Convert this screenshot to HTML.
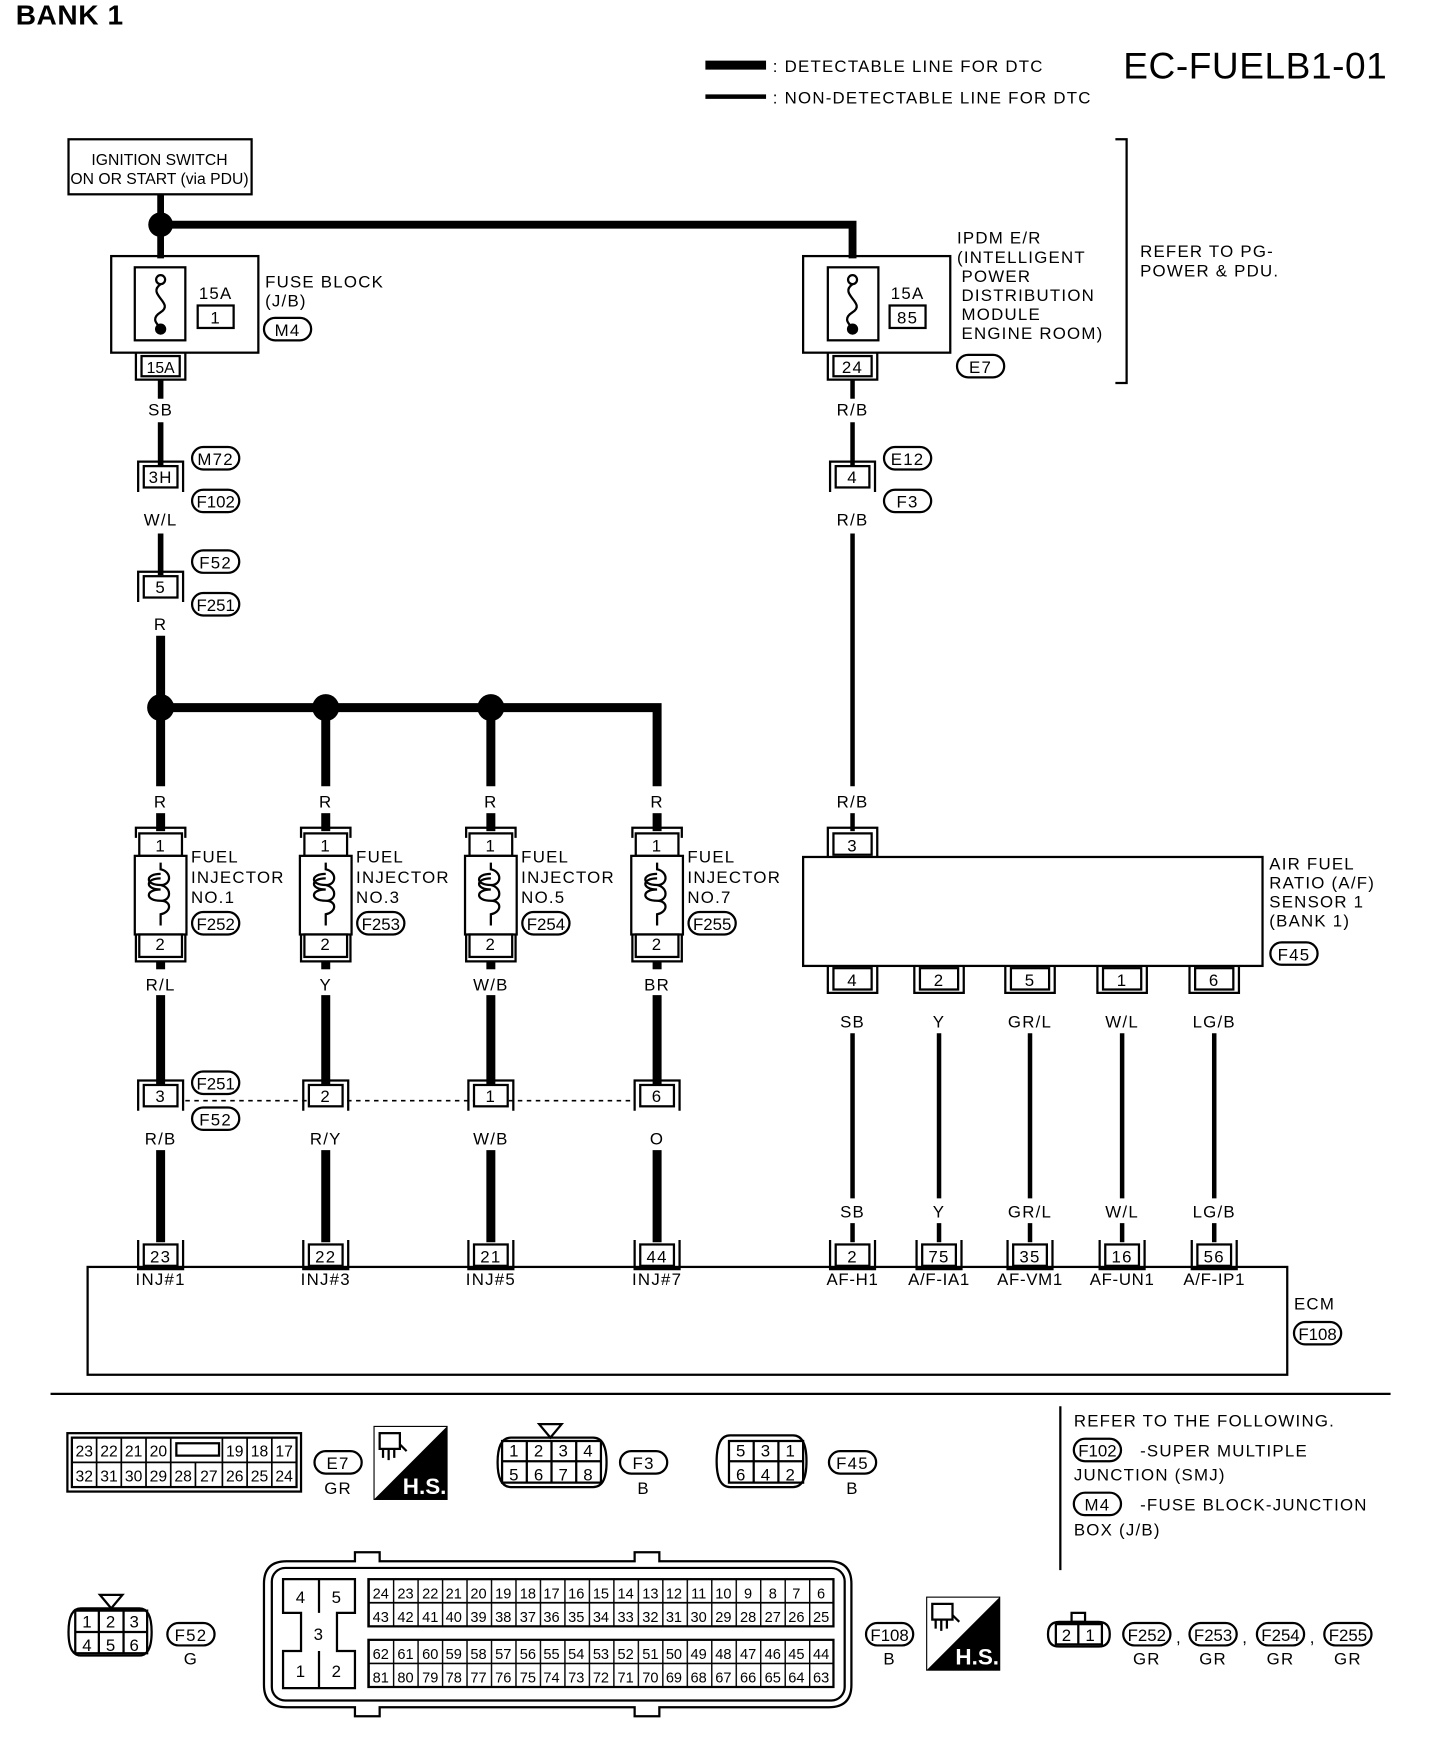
<!DOCTYPE html>
<html><head><meta charset="utf-8"><style>
html,body{margin:0;padding:0;background:#fff}
svg{display:block}
text{font-family:"Liberation Sans",sans-serif;font-size:15px;fill:#000;letter-spacing:1.1px}
.c{text-anchor:middle}
.w{stroke:#000;fill:none}
.b{fill:none;stroke:#000;stroke-width:2}
</style></head><body>
<svg width="1440" height="1760" viewBox="0 0 1282 1567" preserveAspectRatio="none" xmlns="http://www.w3.org/2000/svg">
<defs>
<g id="ov"><rect x="-21" y="-10" width="42" height="20" rx="10" fill="#fff" stroke="#000" stroke-width="2"/></g>
<g id="ct"><path d="M-20,14 V-13 H20 V14" class="b"/><rect x="-15" y="-9" width="30" height="19" fill="#fff" stroke="#000" stroke-width="2"/></g>
<g id="cb"><path d="M-20,-14 V12 H20 V-14" class="b"/><rect x="-15" y="-10" width="30" height="19" fill="#fff" stroke="#000" stroke-width="2"/></g>
<g id="inj">
<path d="M-22,-14 V-19 H22 V-14 M-22,-19 V-10 M22,-19 V-10" class="b"/>
<rect x="-19" y="-14" width="38" height="20" fill="#fff" stroke="#000" stroke-width="2"/>
<rect x="-23" y="6" width="46" height="70" fill="#fff" stroke="#000" stroke-width="2"/>
<path d="M0,12 V18 C10,20 10,32 0,32 C-14,32 -14,22 0,22 M0,32 C10,34 10,46 0,46 C-14,46 -14,36 0,36 C-14,36 -14,26 0,26 M0,46 C10,46 10,56 0,58 V68" class="b"/>
<rect x="-19" y="76" width="38" height="20" fill="#fff" stroke="#000" stroke-width="2"/>
<path d="M-22,76 V100 H22 V76" class="b"/>
</g>
<pattern id="gp" x="328" y="0" width="21.79" height="10" patternUnits="userSpaceOnUse"><rect width="21.79" height="10" fill="#fff"/><line x1="0.5" y1="0" x2="0.5" y2="10" stroke="#000" stroke-width="1.5"/></pattern>
</defs>

<text x="14" y="22" style="font-size:25px;font-weight:bold;letter-spacing:0.5px">BANK 1</text>
<line x1="628" y1="58" x2="682" y2="58" stroke="#000" stroke-width="8"/>
<text x="688" y="64">: DETECTABLE LINE FOR DTC</text>
<line x1="628" y1="86" x2="682" y2="86" stroke="#000" stroke-width="4"/>
<text x="688" y="92">: NON-DETECTABLE LINE FOR DTC</text>
<text x="1000" y="70" style="font-size:33px;letter-spacing:0.5px">EC-FUELB1-01</text>

<rect x="61" y="124" width="163" height="49" class="b"/>
<text x="142" y="147" class="c" style="font-size:14px;letter-spacing:0">IGNITION SWITCH</text>
<text x="142" y="164" class="c" style="font-size:14px;letter-spacing:0">ON OR START (via PDU)</text>

<line x1="143" y1="173" x2="143" y2="230" class="w" stroke-width="6"/>
<path d="M143,200 H759 V230" class="w" stroke-width="7"/>
<circle cx="143" cy="200" r="11"/>

<rect x="99" y="228" width="131" height="86" class="b"/>
<rect x="120" y="238" width="45" height="65" class="b"/>
<circle cx="143" cy="249" r="4" fill="#fff" stroke="#000" stroke-width="2"/>
<path d="M143,253 C130,262 156,270 143,278 C132,285 143,290 143,293" class="b"/>
<circle cx="143" cy="293" r="5"/>
<text x="192" y="266" class="c">15A</text>
<rect x="176" y="272" width="32" height="20" class="b"/><text x="192" y="288" class="c">1</text>
<text x="236" y="256">FUSE BLOCK</text><text x="236" y="273">(J/B)</text>
<use href="#ov" x="256" y="293"/><text x="256" y="299" class="c">M4</text>
<path d="M121,314 V338 H165 V314" class="b"/><rect x="126" y="317" width="34" height="18" class="b"/><text x="143" y="332" class="c" style="font-size:14px;letter-spacing:0">15A</text>

<line x1="143" y1="338" x2="143" y2="355" class="w" stroke-width="5"/>
<text x="143" y="370" class="c">SB</text>
<line x1="143" y1="376" x2="143" y2="414" class="w" stroke-width="5"/>
<use href="#ct" x="143" y="424"/><text x="143" y="430" class="c">3H</text>
<use href="#ov" x="192" y="408"/><text x="192" y="414" class="c">M72</text>
<use href="#ov" x="192" y="446"/><text x="192" y="452" class="c" style="letter-spacing:0">F102</text>
<text x="143" y="468" class="c">W/L</text>
<line x1="143" y1="475" x2="143" y2="512" class="w" stroke-width="5"/>
<use href="#ct" x="143" y="522"/><text x="143" y="528" class="c">5</text>
<use href="#ov" x="192" y="500"/><text x="192" y="506" class="c">F52</text>
<use href="#ov" x="192" y="538"/><text x="192" y="544" class="c" style="letter-spacing:0">F251</text>
<text x="143" y="561" class="c">R</text>
<line x1="143" y1="566" x2="143" y2="630" class="w" stroke-width="8"/>
<path d="M143,630 H585 V700" class="w" stroke-width="8"/>
<circle cx="143" cy="630" r="12"/><circle cx="290" cy="630" r="12"/><circle cx="437" cy="630" r="12"/>
<line x1="143" y1="630" x2="143" y2="700" class="w" stroke-width="8"/>
<line x1="290" y1="630" x2="290" y2="700" class="w" stroke-width="8"/>
<line x1="437" y1="630" x2="437" y2="700" class="w" stroke-width="8"/>
<g class="c"><text x="143" y="719">R</text><text x="290" y="719">R</text><text x="437" y="719">R</text><text x="585" y="719">R</text></g>
<line x1="143" y1="724" x2="143" y2="740" class="w" stroke-width="8"/>
<line x1="290" y1="724" x2="290" y2="740" class="w" stroke-width="8"/>
<line x1="437" y1="724" x2="437" y2="740" class="w" stroke-width="8"/>
<line x1="585" y1="724" x2="585" y2="740" class="w" stroke-width="8"/>

<use href="#inj" x="143" y="756"/><use href="#inj" x="290" y="756"/><use href="#inj" x="437" y="756"/><use href="#inj" x="585" y="756"/>
<g class="c"><text x="143" y="758">1</text><text x="290" y="758">1</text><text x="437" y="758">1</text><text x="585" y="758">1</text>
<text x="143" y="846">2</text><text x="290" y="846">2</text><text x="437" y="846">2</text><text x="585" y="846">2</text></g>
<text x="170" y="768">FUEL</text><text x="170" y="786">INJECTOR</text><text x="170" y="804">NO.1</text>
<text x="317" y="768">FUEL</text><text x="317" y="786">INJECTOR</text><text x="317" y="804">NO.3</text>
<text x="464" y="768">FUEL</text><text x="464" y="786">INJECTOR</text><text x="464" y="804">NO.5</text>
<text x="612" y="768">FUEL</text><text x="612" y="786">INJECTOR</text><text x="612" y="804">NO.7</text>
<use href="#ov" x="192" y="822"/><text x="192" y="828" class="c" style="letter-spacing:0">F252</text>
<use href="#ov" x="339" y="822"/><text x="339" y="828" class="c" style="letter-spacing:0">F253</text>
<use href="#ov" x="486" y="822"/><text x="486" y="828" class="c" style="letter-spacing:0">F254</text>
<use href="#ov" x="634" y="822"/><text x="634" y="828" class="c" style="letter-spacing:0">F255</text>

<g class="w" stroke-width="8">
<line x1="143" y1="856" x2="143" y2="863"/><line x1="290" y1="856" x2="290" y2="863"/><line x1="437" y1="856" x2="437" y2="863"/><line x1="585" y1="856" x2="585" y2="863"/>
<line x1="143" y1="886" x2="143" y2="966"/><line x1="290" y1="886" x2="290" y2="966"/><line x1="437" y1="886" x2="437" y2="966"/><line x1="585" y1="886" x2="585" y2="966"/>
<line x1="143" y1="1024" x2="143" y2="1106"/><line x1="290" y1="1024" x2="290" y2="1106"/><line x1="437" y1="1024" x2="437" y2="1106"/><line x1="585" y1="1024" x2="585" y2="1106"/>
</g>
<g class="c"><text x="143" y="882">R/L</text><text x="290" y="882">Y</text><text x="437" y="882">W/B</text><text x="585" y="882">BR</text>
<text x="143" y="1019">R/B</text><text x="290" y="1019">R/Y</text><text x="437" y="1019">W/B</text><text x="585" y="1019">O</text></g>
<line x1="165" y1="980" x2="562" y2="980" stroke="#000" stroke-width="1.5" stroke-dasharray="4,4"/>
<use href="#ct" x="143" y="975"/><use href="#ct" x="290" y="975"/><use href="#ct" x="437" y="975"/><use href="#ct" x="585" y="975"/>
<g class="c"><text x="143" y="981">3</text><text x="290" y="981">2</text><text x="437" y="981">1</text><text x="585" y="981">6</text></g>
<use href="#ov" x="192" y="964"/><text x="192" y="970" class="c" style="letter-spacing:0">F251</text>
<use href="#ov" x="192" y="996"/><text x="192" y="1002" class="c">F52</text>

<rect x="78" y="1128" width="1068" height="96" class="b"/>
<use href="#cb" x="143" y="1118"/><use href="#cb" x="290" y="1118"/><use href="#cb" x="437" y="1118"/><use href="#cb" x="585" y="1118"/>
<use href="#cb" x="759" y="1118"/><use href="#cb" x="836" y="1118"/><use href="#cb" x="917" y="1118"/><use href="#cb" x="999" y="1118"/><use href="#cb" x="1081" y="1118"/>
<g class="c"><text x="143" y="1124">23</text><text x="290" y="1124">22</text><text x="437" y="1124">21</text><text x="585" y="1124">44</text>
<text x="759" y="1124">2</text><text x="836" y="1124">75</text><text x="917" y="1124">35</text><text x="999" y="1124">16</text><text x="1081" y="1124">56</text>
<text x="143" y="1144">INJ#1</text><text x="290" y="1144">INJ#3</text><text x="437" y="1144">INJ#5</text><text x="585" y="1144">INJ#7</text>
<text x="759" y="1144" style="letter-spacing:0.6px">AF-H1</text><text x="836" y="1144" style="letter-spacing:0.6px">A/F-IA1</text><text x="917" y="1144" style="letter-spacing:0.6px">AF-VM1</text><text x="999" y="1144" style="letter-spacing:0.6px">AF-UN1</text><text x="1081" y="1144" style="letter-spacing:0.6px">A/F-IP1</text></g>
<text x="1152" y="1166">ECM</text>
<use href="#ov" x="1173" y="1187"/><text x="1173" y="1193" class="c" style="letter-spacing:0">F108</text>

<rect x="715" y="228" width="131" height="86" class="b"/>
<rect x="737" y="238" width="45" height="65" class="b"/>
<circle cx="759" cy="249" r="4" fill="#fff" stroke="#000" stroke-width="2"/>
<path d="M759,253 C746,262 772,270 759,278 C748,285 759,290 759,293" class="b"/>
<circle cx="759" cy="293" r="5"/>
<text x="808" y="266" class="c">15A</text>
<rect x="792" y="272" width="32" height="20" class="b"/><text x="808" y="288" class="c">85</text>
<text x="852" y="217">IPDM E/R</text><text x="852" y="234">(INTELLIGENT</text><text x="856" y="251">POWER</text><text x="856" y="268">DISTRIBUTION</text><text x="856" y="285">MODULE</text><text x="856" y="302">ENGINE ROOM)</text>
<use href="#ov" x="873" y="326"/><text x="873" y="332" class="c">E7</text>
<path d="M737,314 V338 H781 V314" class="b"/><rect x="742" y="317" width="34" height="18" class="b"/><text x="759" y="332" class="c">24</text>
<path d="M993,124 H1003 V341 H993" class="b"/>
<text x="1015" y="229">REFER TO PG-</text><text x="1015" y="246">POWER &amp; PDU.</text>
<line x1="759" y1="338" x2="759" y2="355" class="w" stroke-width="4"/>
<text x="759" y="370" class="c">R/B</text>
<line x1="759" y1="376" x2="759" y2="414" class="w" stroke-width="4"/>
<use href="#ct" x="759" y="424"/><text x="759" y="430" class="c">4</text>
<use href="#ov" x="808" y="408"/><text x="808" y="414" class="c">E12</text>
<use href="#ov" x="808" y="446"/><text x="808" y="452" class="c">F3</text>
<text x="759" y="468" class="c">R/B</text>
<line x1="759" y1="475" x2="759" y2="700" class="w" stroke-width="4"/>
<text x="759" y="719" class="c">R/B</text>
<line x1="759" y1="724" x2="759" y2="740" class="w" stroke-width="4"/>
<path d="M737,763 V737 H781 V763" class="b"/><rect x="742" y="742" width="34" height="19" fill="#fff" class="b"/><text x="759" y="758" class="c">3</text>
<rect x="715" y="763" width="409" height="97" class="b"/>
<text x="1130" y="774">AIR FUEL</text><text x="1130" y="791">RATIO (A/F)</text><text x="1130" y="808">SENSOR 1</text><text x="1130" y="825">(BANK 1)</text>
<use href="#ov" x="1152" y="849"/><text x="1152" y="855" class="c">F45</text>
<path d="M737,860 V884 H781 V860 M814,860 V884 H858 V860 M895,860 V884 H939 V860 M977,860 V884 H1021 V860 M1059,860 V884 H1103 V860" class="b"/>
<rect x="742" y="862" width="34" height="19" class="b"/><rect x="819" y="862" width="34" height="19" class="b"/><rect x="900" y="862" width="34" height="19" class="b"/><rect x="982" y="862" width="34" height="19" class="b"/><rect x="1064" y="862" width="34" height="19" class="b"/>
<g class="c"><text x="759" y="878">4</text><text x="836" y="878">2</text><text x="917" y="878">5</text><text x="999" y="878">1</text><text x="1081" y="878">6</text>
<text x="759" y="915">SB</text><text x="836" y="915">Y</text><text x="917" y="915">GR/L</text><text x="999" y="915">W/L</text><text x="1081" y="915">LG/B</text>
<text x="759" y="1084">SB</text><text x="836" y="1084">Y</text><text x="917" y="1084">GR/L</text><text x="999" y="1084">W/L</text><text x="1081" y="1084">LG/B</text></g>
<g class="w" stroke-width="4">
<line x1="759" y1="920" x2="759" y2="1067"/><line x1="836" y1="920" x2="836" y2="1067"/><line x1="917" y1="920" x2="917" y2="1067"/><line x1="999" y1="920" x2="999" y2="1067"/><line x1="1081" y1="920" x2="1081" y2="1067"/>
<line x1="759" y1="1089" x2="759" y2="1106"/><line x1="836" y1="1089" x2="836" y2="1106"/><line x1="917" y1="1089" x2="917" y2="1106"/><line x1="999" y1="1089" x2="999" y2="1106"/><line x1="1081" y1="1089" x2="1081" y2="1106"/>
</g>

<line x1="45" y1="1241" x2="1238" y2="1241" stroke="#000" stroke-width="2"/>
<line x1="944" y1="1252" x2="944" y2="1398" stroke="#000" stroke-width="2"/>

<rect x="60" y="1276" width="208" height="52" class="b"/>
<rect x="64" y="1280" width="200" height="44" class="b"/>
<line x1="64" y1="1302" x2="264" y2="1302" stroke="#000" stroke-width="1.5"/>
<path d="M86,1280V1324 M108,1280V1324 M130,1280V1324 M152,1280V1324 M198,1280V1324 M220,1280V1324 M242,1280V1324 M174,1302V1324" stroke="#000" stroke-width="1.5"/>
<rect x="157" y="1285" width="38" height="11" class="b"/>
<g class="c"><text x="75" y="1297" style="font-size:14px;letter-spacing:0">23</text><text x="97" y="1297" style="font-size:14px;letter-spacing:0">22</text><text x="119" y="1297" style="font-size:14px;letter-spacing:0">21</text><text x="141" y="1297" style="font-size:14px;letter-spacing:0">20</text><text x="209" y="1297" style="font-size:14px;letter-spacing:0">19</text><text x="231" y="1297" style="font-size:14px;letter-spacing:0">18</text><text x="253" y="1297" style="font-size:14px;letter-spacing:0">17</text>
<text x="75" y="1319" style="font-size:14px;letter-spacing:0">32</text><text x="97" y="1319" style="font-size:14px;letter-spacing:0">31</text><text x="119" y="1319" style="font-size:14px;letter-spacing:0">30</text><text x="141" y="1319" style="font-size:14px;letter-spacing:0">29</text><text x="163" y="1319" style="font-size:14px;letter-spacing:0">28</text><text x="186" y="1319" style="font-size:14px;letter-spacing:0">27</text><text x="209" y="1319" style="font-size:14px;letter-spacing:0">26</text><text x="231" y="1319" style="font-size:14px;letter-spacing:0">25</text><text x="253" y="1319" style="font-size:14px;letter-spacing:0">24</text></g>
<use href="#ov" x="301" y="1302"/><text x="301" y="1308" class="c">E7</text><text x="301" y="1330" class="c">GR</text>
<rect x="333" y="1270" width="65" height="65" fill="#fff" stroke="#000" stroke-width="1"/>
<polygon points="398,1270 398,1335 333,1335"/>
<rect x="338" y="1276" width="18" height="14" class="b"/><path d="M341,1290v8 M346,1290v10 M351,1290v8 M356,1286l6,6" class="b"/>
<text x="378" y="1330" class="c" style="fill:#fff;font-weight:bold;font-size:20px;letter-spacing:0">H.S.</text>
<path d="M455,1280 H528 Q540,1280 540,1302 Q540,1324 528,1324 H455 Q443,1324 443,1302 Q443,1280 455,1280Z" class="b"/>
<polygon points="480,1268 500,1268 490,1280" fill="#fff" stroke="#000" stroke-width="2"/>
<path d="M446,1301 H536 M469,1283V1320 M491,1283V1320 M513,1283V1320 M447,1283 H535 V1320 H447Z" class="b" stroke-width="1.5"/>
<g class="c"><text x="458" y="1297">1</text><text x="480" y="1297">2</text><text x="502" y="1297">3</text><text x="524" y="1297">4</text><text x="458" y="1318">5</text><text x="480" y="1318">6</text><text x="502" y="1318">7</text><text x="524" y="1318">8</text></g>
<use href="#ov" x="573" y="1302"/><text x="573" y="1308" class="c">F3</text><text x="573" y="1330" class="c">B</text>
<path d="M650,1278 H706 Q718,1278 718,1301 Q718,1324 706,1324 H650 Q638,1324 638,1301 Q638,1278 650,1278Z" class="b"/>
<path d="M649,1283 H715 V1320 H649Z M649,1301 H715 M671,1283V1320 M693,1283V1320" class="b" stroke-width="1.5"/>
<g class="c"><text x="660" y="1297">5</text><text x="682" y="1297">3</text><text x="704" y="1297">1</text><text x="660" y="1318">6</text><text x="682" y="1318">4</text><text x="704" y="1318">2</text></g>
<use href="#ov" x="759" y="1302"/><text x="759" y="1308" class="c">F45</text><text x="759" y="1330" class="c">B</text>
<text x="956" y="1270">REFER TO THE FOLLOWING.</text>
<use href="#ov" x="977" y="1291"/><text x="977" y="1297" class="c" style="letter-spacing:0">F102</text><text x="1015" y="1297">-SUPER MULTIPLE</text>
<text x="956" y="1318">JUNCTION (SMJ)</text>
<use href="#ov" x="977" y="1339"/><text x="977" y="1345" class="c">M4</text><text x="1015" y="1345">-FUSE BLOCK-JUNCTION</text>
<text x="956" y="1367">BOX (J/B)</text>
<path d="M72,1432 H124 Q135,1432 135,1453 Q135,1474 124,1474 H72 Q61,1474 61,1453 Q61,1432 72,1432Z" class="b"/>
<polygon points="89,1420 109,1420 99,1432" fill="#fff" stroke="#000" stroke-width="2"/>
<path d="M67,1434 H131 V1472 H67Z M67,1453 H131 M88,1434V1472 M110,1434V1472" class="b" stroke-width="1.5"/>
<g class="c"><text x="78" y="1449">1</text><text x="99" y="1449">2</text><text x="120" y="1449">3</text><text x="78" y="1470">4</text><text x="99" y="1470">5</text><text x="120" y="1470">6</text></g>
<use href="#ov" x="170" y="1455"/><text x="170" y="1461" class="c">F52</text><text x="170" y="1482" class="c">G</text>
<path d="M255,1390 H316 V1382 H338 V1390 H565 V1382 H587 V1390 H738 Q758,1390 758,1410 V1500 Q758,1520 738,1520 H587 V1528 H565 V1520 H338 V1528 H316 V1520 H255 Q235,1520 235,1500 V1410 Q235,1390 255,1390Z" class="b"/>
<rect x="242" y="1396" width="510" height="118" rx="12" class="b"/>
<path d="M252,1406 H316 V1436 H300 V1470 H316 V1503 H252 V1470 H268 V1436 H252Z M284,1406V1436 M284,1470V1503" class="b"/>
<g class="c"><text x="268" y="1427">4</text><text x="300" y="1427">5</text><text x="284" y="1460">3</text><text x="268" y="1493">1</text><text x="300" y="1493">2</text></g>
<rect x="328" y="1406" width="414" height="42" fill="url(#gp)" stroke="#000" stroke-width="2"/>
<rect x="328" y="1460" width="414" height="42" fill="url(#gp)" stroke="#000" stroke-width="2"/>
<line x1="328" y1="1427" x2="742" y2="1427" stroke="#000" stroke-width="1.5"/>
<line x1="328" y1="1481" x2="742" y2="1481" stroke="#000" stroke-width="1.5"/>
<g class="c">
<text y="1423" style="font-size:13px;letter-spacing:0"><tspan x="339">24</tspan><tspan x="361">23</tspan><tspan x="383">22</tspan><tspan x="404">21</tspan><tspan x="426">20</tspan><tspan x="448">19</tspan><tspan x="470">18</tspan><tspan x="491">17</tspan><tspan x="513">16</tspan><tspan x="535">15</tspan><tspan x="557">14</tspan><tspan x="579">13</tspan><tspan x="600">12</tspan><tspan x="622">11</tspan><tspan x="644">10</tspan><tspan x="666">9</tspan><tspan x="688">8</tspan><tspan x="709">7</tspan><tspan x="731">6</tspan></text>
<text y="1444" style="font-size:13px;letter-spacing:0"><tspan x="339">43</tspan><tspan x="361">42</tspan><tspan x="383">41</tspan><tspan x="404">40</tspan><tspan x="426">39</tspan><tspan x="448">38</tspan><tspan x="470">37</tspan><tspan x="491">36</tspan><tspan x="513">35</tspan><tspan x="535">34</tspan><tspan x="557">33</tspan><tspan x="579">32</tspan><tspan x="600">31</tspan><tspan x="622">30</tspan><tspan x="644">29</tspan><tspan x="666">28</tspan><tspan x="688">27</tspan><tspan x="709">26</tspan><tspan x="731">25</tspan></text>
<text y="1477" style="font-size:13px;letter-spacing:0"><tspan x="339">62</tspan><tspan x="361">61</tspan><tspan x="383">60</tspan><tspan x="404">59</tspan><tspan x="426">58</tspan><tspan x="448">57</tspan><tspan x="470">56</tspan><tspan x="491">55</tspan><tspan x="513">54</tspan><tspan x="535">53</tspan><tspan x="557">52</tspan><tspan x="579">51</tspan><tspan x="600">50</tspan><tspan x="622">49</tspan><tspan x="644">48</tspan><tspan x="666">47</tspan><tspan x="688">46</tspan><tspan x="709">45</tspan><tspan x="731">44</tspan></text>
<text y="1498" style="font-size:13px;letter-spacing:0"><tspan x="339">81</tspan><tspan x="361">80</tspan><tspan x="383">79</tspan><tspan x="404">78</tspan><tspan x="426">77</tspan><tspan x="448">76</tspan><tspan x="470">75</tspan><tspan x="491">74</tspan><tspan x="513">73</tspan><tspan x="535">72</tspan><tspan x="557">71</tspan><tspan x="579">70</tspan><tspan x="600">69</tspan><tspan x="622">68</tspan><tspan x="644">67</tspan><tspan x="666">66</tspan><tspan x="688">65</tspan><tspan x="709">64</tspan><tspan x="731">63</tspan></text>
</g>
<use href="#ov" x="792" y="1455"/><text x="792" y="1461" class="c" style="letter-spacing:0">F108</text><text x="792" y="1482" class="c">B</text>
<rect x="825" y="1422" width="65" height="65" fill="#fff" stroke="#000" stroke-width="1"/>
<polygon points="890,1422 890,1487 825,1487"/>
<rect x="830" y="1428" width="18" height="14" class="b"/><path d="M833,1442v8 M838,1442v10 M843,1442v8 M848,1438l6,6" class="b"/>
<text x="870" y="1482" class="c" style="fill:#fff;font-weight:bold;font-size:20px;letter-spacing:0">H.S.</text>
<path d="M943,1444 H978 Q988,1444 988,1455 Q988,1466 978,1466 H943 Q933,1466 933,1455 Q933,1444 943,1444Z" class="b"/>
<rect x="954" y="1436" width="12" height="8" class="b"/>
<path d="M940,1446 H981 V1464 H940Z M960,1446V1464" class="b" stroke-width="1.5"/>
<text x="950" y="1461" class="c">2</text><text x="971" y="1461" class="c">1</text>
<use href="#ov" x="1021" y="1455"/><text x="1021" y="1461" class="c" style="letter-spacing:0">F252</text><text x="1021" y="1482" class="c">GR</text><text x="1047" y="1463">,</text>
<use href="#ov" x="1080" y="1455"/><text x="1080" y="1461" class="c" style="letter-spacing:0">F253</text><text x="1080" y="1482" class="c">GR</text><text x="1106" y="1463">,</text>
<use href="#ov" x="1140" y="1455"/><text x="1140" y="1461" class="c" style="letter-spacing:0">F254</text><text x="1140" y="1482" class="c">GR</text><text x="1166" y="1463">,</text>
<use href="#ov" x="1200" y="1455"/><text x="1200" y="1461" class="c" style="letter-spacing:0">F255</text><text x="1200" y="1482" class="c">GR</text>
</svg>
</body></html>
